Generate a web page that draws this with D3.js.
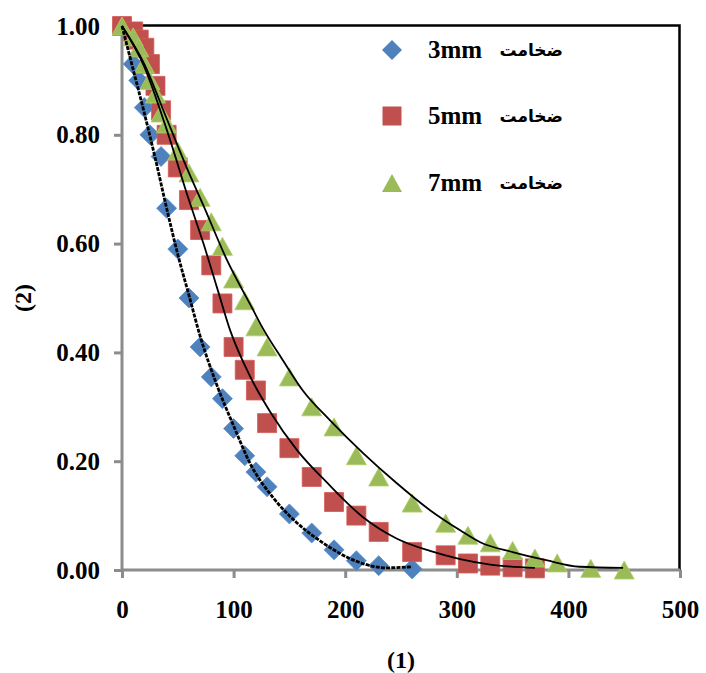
<!DOCTYPE html>
<html>
<head>
<meta charset="utf-8">
<script src="https://cdn.jsdelivr.net/npm/d3@7"></script>
<style>
  html, body { margin: 0; padding: 0; background: #fff; }
  svg { display: block; }
  .tick text, .lbl { font-family: "Liberation Serif", "Times New Roman", serif; font-weight: bold; fill: #000; }
  .fa { font-family: "DejaVu Sans", sans-serif; font-weight: bold; fill: #000; }
</style>
</head>
<body>
<svg id="chart" width="706" height="673"></svg>
<script>
// Measured series: normalised value vs. time for three thicknesses
const thick3X = [0, 10, 15, 20, 25, 35, 40, 50, 60, 70, 80, 90, 100, 110, 120, 130, 150, 170, 190, 210, 230, 260];
const thick3Y = [1.00, 0.93, 0.90, 0.85, 0.80, 0.76, 0.665, 0.59, 0.50, 0.41, 0.355, 0.315, 0.26, 0.21, 0.18, 0.153, 0.103, 0.068, 0.037, 0.017, 0.008, 0.002];

const thick5X = [0, 10, 15, 20, 25, 30, 35, 40, 50, 60, 70, 80, 90, 100, 110, 120, 130, 150, 170, 190, 210, 230, 260, 290, 310, 330, 350, 370];
const thick5Y = [1.00, 0.99, 0.975, 0.96, 0.93, 0.89, 0.845, 0.80, 0.74, 0.68, 0.625, 0.56, 0.49, 0.41, 0.368, 0.33, 0.27, 0.224, 0.171, 0.125, 0.10, 0.07, 0.033, 0.027, 0.012, 0.008, 0.005, 0.003];

const thick7X = [0, 10, 15, 20, 25, 30, 35, 40, 50, 60, 70, 80, 90, 100, 110, 120, 130, 150, 170, 190, 210, 230, 260, 290, 310, 330, 350, 370, 390, 420, 450];
const thick7Y = [1.00, 0.98, 0.96, 0.93, 0.90, 0.875, 0.84, 0.82, 0.77, 0.73, 0.685, 0.64, 0.595, 0.535, 0.495, 0.447, 0.41, 0.355, 0.30, 0.263, 0.21, 0.171, 0.123, 0.086, 0.064, 0.05, 0.036, 0.022, 0.013, 0.003, 0.0];

// Fitted trend curves (sampled)
const fit3X = [0, 10, 20, 30, 40, 50, 60, 70, 85, 100, 115, 135, 155, 180, 210, 237, 260];
const fit3Y = [1.0, 0.92, 0.84, 0.755, 0.665, 0.58, 0.505, 0.43, 0.34, 0.265, 0.195, 0.134, 0.09, 0.05, 0.016, 0.004, 0.006];

const fit5X = [0, 20, 40, 60, 73, 85, 97, 115, 133, 157, 184, 216, 246, 276, 303, 330, 370];
const fit5Y = [1.0, 0.925, 0.81, 0.68, 0.60, 0.52, 0.44, 0.355, 0.29, 0.22, 0.16, 0.097, 0.058, 0.035, 0.02, 0.01, 0.004];

const fit7X = [0, 20, 40, 60, 73, 94, 117, 126, 144, 162, 186, 216, 246, 276, 303, 321, 350, 380, 410, 449];
const fit7Y = [1.0, 0.93, 0.83, 0.73, 0.67, 0.57, 0.48, 0.445, 0.386, 0.33, 0.276, 0.215, 0.16, 0.11, 0.073, 0.051, 0.033, 0.018, 0.006, 0.004];

const xTicks = [0, 100, 200, 300, 400, 500];
const yTicks = [0, 0.2, 0.4, 0.6, 0.8, 1.0];

const seriesLabels = ["3mm", "5mm", "7mm"];
const seriesWord = "ضخامت";
const xTitle = "(1)";
const yTitle = "(2)";

const colors = ["#4F81BD", "#C0504D", "#9BBB59"];

const svg = d3.select("#chart");
const x = d3.scaleLinear().domain([0, 500]).range([122, 680]);
const y = d3.scaleLinear().domain([0, 1]).range([570, 26]);

// Marker shapes: diamond (equal width/height), square, box-centred triangle
const diamond = { draw(ctx, size) { const r = Math.sqrt(size) / 2; ctx.moveTo(0, -r); ctx.lineTo(r, 0); ctx.lineTo(0, r); ctx.lineTo(-r, 0); ctx.closePath(); } };
const square = { draw(ctx, size) { const h = Math.sqrt(size) / 2; ctx.rect(-h, -h, 2 * h, 2 * h); } };
const triangle = { draw(ctx, size) { const w = Math.sqrt(size) / 2, h = w * 0.9; ctx.moveTo(0, -h); ctx.lineTo(w, h); ctx.lineTo(-w, h); ctx.closePath(); } };
const shapes = [d3.symbol(diamond, 400), d3.symbol(square, 361), d3.symbol(triangle, 400)];

// Plot frame (top and right)
svg.append("path")
  .attr("d", `M${x(0)},${y(1) - 0.5}H${x(500) - 0.5}V${y(0)}`)
  .attr("fill", "none").attr("stroke", "#000").attr("stroke-width", 2.5);

// Axes
const yAxis = svg.append("g").attr("transform", `translate(${x(0)},0)`)
  .call(d3.axisLeft(y).tickValues(yTicks).tickFormat(d3.format(".2f")).tickSize(8).tickPadding(14));
const xAxis = svg.append("g").attr("transform", `translate(0,${y(0)})`)
  .call(d3.axisBottom(x).tickValues(xTicks).tickFormat(d3.format("d")).tickSize(8).tickPadding(22));

[yAxis, xAxis].forEach(g => {
  g.select(".domain").attr("stroke", "#8C8C8C").attr("stroke-width", 3);
  g.selectAll(".tick line").attr("stroke", "#8C8C8C").attr("stroke-width", 3);
  g.selectAll(".tick text").style("font-size", "25px");
});
yAxis.select(".domain").attr("d", `M0,${y(1)}V${y(0)}`);
xAxis.select(".domain").attr("d", `M${x(0)},0H${x(500)}`);

// Markers (drawn in series order so the last series sits on top)
const measured = [[thick3X, thick3Y], [thick5X, thick5Y], [thick7X, thick7Y]];
measured.forEach(([xs, ys], i) => {
  svg.append("g").selectAll("path")
    .data(xs.map((d, j) => [d, ys[j]]))
    .join("path")
    .attr("d", shapes[i])
    .attr("transform", d => `translate(${x(d[0])},${y(d[1])})`)
    .attr("fill", colors[i])
    .attr("stroke", d3.color(colors[i]).brighter(0.3))
    .attr("stroke-width", 0.8);
});

// Trend curves
const line = d3.line().x(d => x(d[0])).y(d => y(d[1])).curve(d3.curveMonotoneX);
const fits = [[fit3X, fit3Y, 2.8, "4,1.2"], [fit5X, fit5Y, 1.8, null], [fit7X, fit7Y, 1.8, null]];
fits.forEach(([xs, ys, w, dash]) => {
  svg.append("path")
    .datum(xs.map((d, j) => [d, ys[j]]))
    .attr("d", line)
    .attr("fill", "none")
    .attr("stroke", "#000")
    .attr("stroke-width", w)
    .attr("stroke-dasharray", dash);
});

// Legend
const legendY = [50, 116, 183];
const legend = svg.append("g");
seriesLabels.forEach((lab, i) => {
  legend.append("path").attr("d", shapes[i])
    .attr("transform", `translate(392,${legendY[i]})`)
    .attr("fill", colors[i]);
  legend.append("text").attr("class", "lbl")
    .attr("x", 428).attr("y", legendY[i]).attr("dy", "0.33em")
    .style("font-size", "25px").text(lab);
  legend.append("text").attr("class", "fa")
    .attr("x", 563).attr("y", legendY[i] + 6)
    .attr("text-anchor", "end")
    .style("font-size", "17px").text(seriesWord);
});

// Axis titles
svg.append("text").attr("class", "lbl")
  .attr("x", (x(0) + x(500)) / 2).attr("y", 660).attr("dy", "0.35em")
  .attr("text-anchor", "middle").style("font-size", "24px").text(xTitle);
svg.append("text").attr("class", "lbl")
  .attr("transform", "translate(23,298) rotate(-90)").attr("dy", "0.35em")
  .attr("text-anchor", "middle").style("font-size", "24px").text(yTitle);
</script>
</body>
</html>
